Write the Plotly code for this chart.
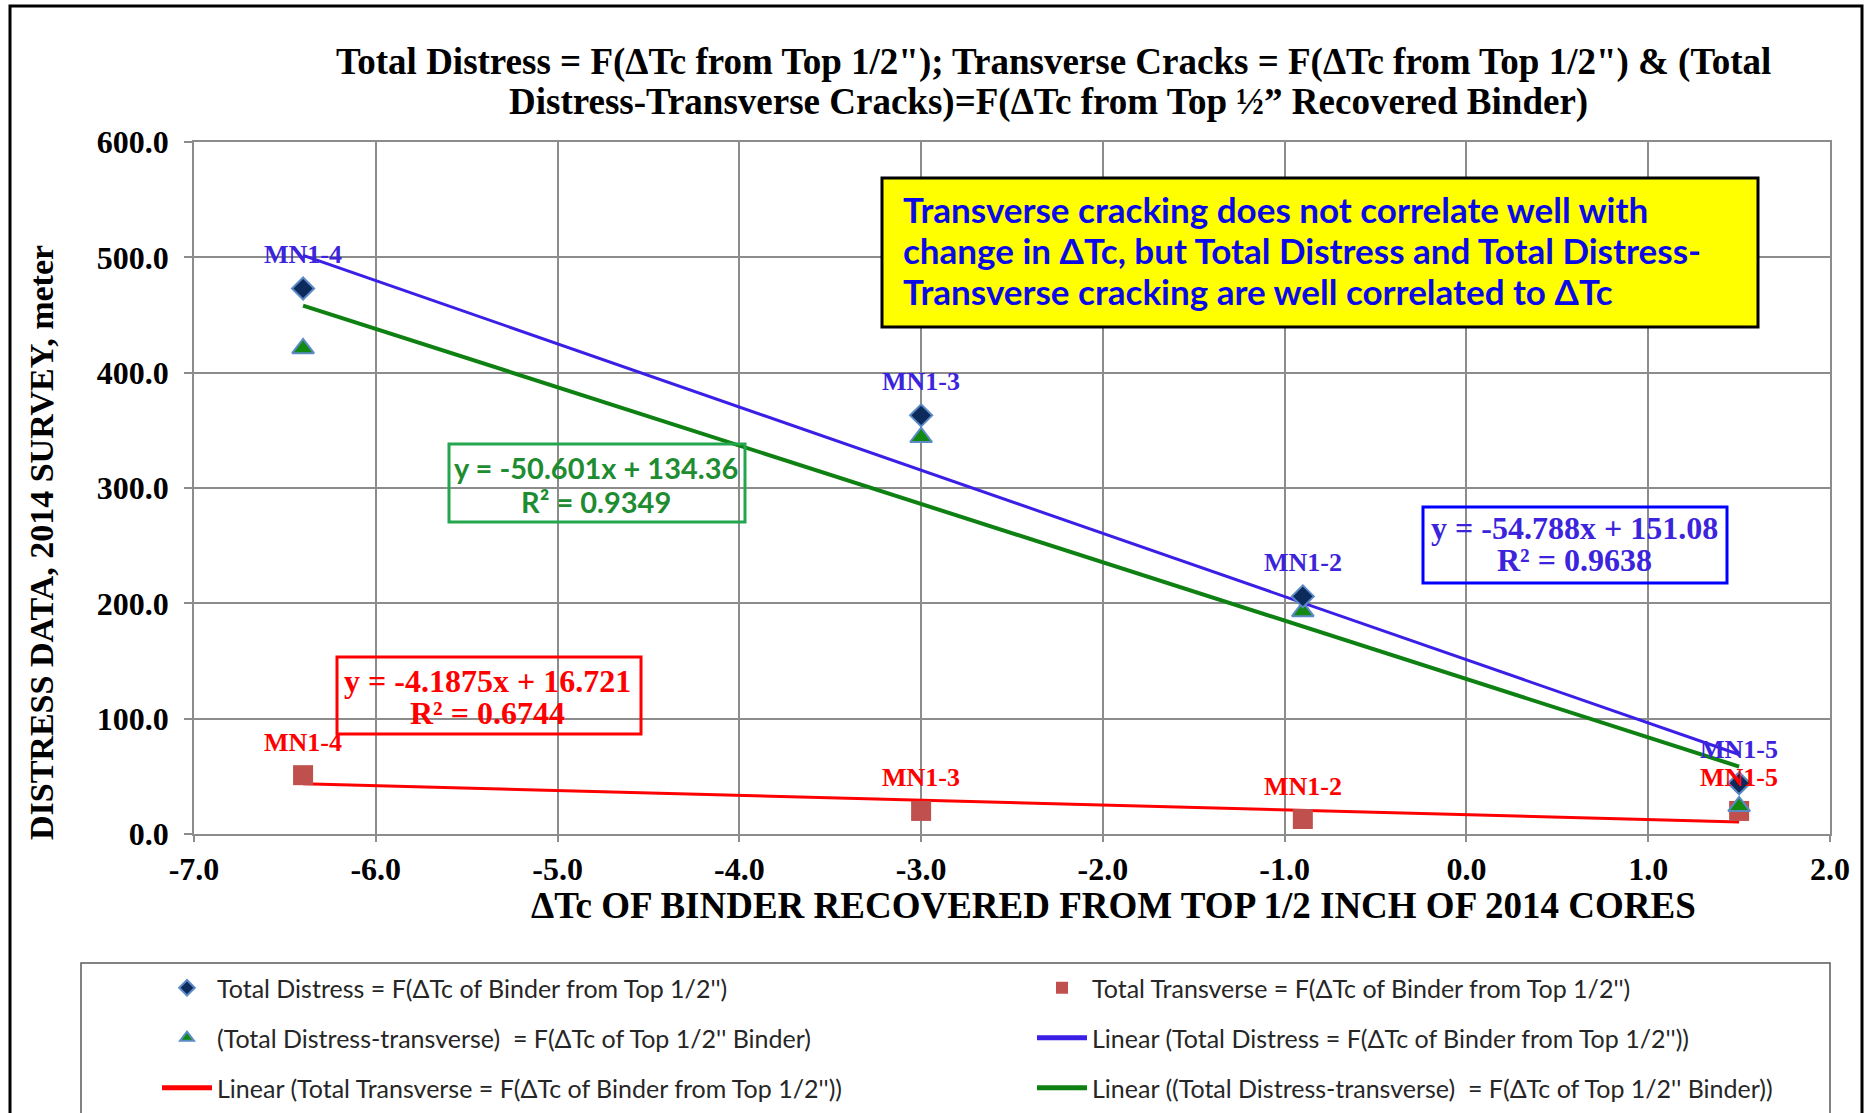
import plotly.graph_objects as go

# ---------------- data ----------------
sites = ["MN1-4", "MN1-3", "MN1-2", "MN1-5"]
delta_tc = [-6.4, -3.0, -0.9, 1.5]
total_distress = [473, 363, 206, 44]
total_transverse = [51, 20, 13, 20]
distress_minus_transverse = [421, 344, 193, 24]

# trendline coefficients
fit_total = [-54.788, 151.08]
fit_trans = [-4.1875, 16.721]
fit_diff = [-50.601, 134.36]
eq_total = ["y = -54.788x + 151.08", "R² = 0.9638"]
eq_trans = ["y = -4.1875x + 16.721", "R² = 0.6744"]
eq_diff = ["y = -50.601x + 134.36", "R² = 0.9349"]

x_ticks = [-7, -6, -5, -4, -3, -2, -1, 0, 1, 2]
y_ticks = [0, 100, 200, 300, 400, 500, 600]
x_ticktext = ["%.1f" % v for v in x_ticks]
y_ticktext = ["%.1f" % v for v in y_ticks]

names = {
    "td": "Total Distress = F(ΔTc of Binder from Top 1/2'')",
    "tt": "Total Transverse = F(ΔTc of Binder from Top 1/2'')",
    "tdt": "(Total Distress-transverse)  = F(ΔTc of Top 1/2'' Binder)",
    "ltd": "Linear (Total Distress = F(ΔTc of Binder from Top 1/2''))",
    "ltt": "Linear (Total Transverse = F(ΔTc of Binder from Top 1/2''))",
    "ltdt": "Linear ((Total Distress-transverse)  = F(ΔTc of Top 1/2'' Binder))",
}

# ---------------- layout geometry ----------------
W, H = 1870, 1113
ML, MR, MT, MB = 194, 40, 142, 279
PW, PH = W - ML - MR, H - MT - MB


def px(xp):
    return (xp - ML) / PW


def py(yp):
    return (H - MB - yp) / PH


SERIF = "Liberation Serif"
SANS = "Lato"
BLUE_TXT = "#3B24DC"
BLUE_LINE = "#3A1FE6"
GREEN_LINE = "#0F8012"
GREEN_TXT = "#1E8C30"
RED = "#FF0000"

fig = go.Figure()

xmin, xmax = min(delta_tc), max(delta_tc)
line_x = [xmin, xmax]

# trendlines
fig.add_trace(go.Scatter(
    x=line_x, y=[fit_total[0] * v + fit_total[1] for v in line_x],
    mode="lines", line=dict(color=BLUE_LINE, width=3),
    name=names["ltd"], legend="legend2", legendrank=2))
fig.add_trace(go.Scatter(
    x=line_x, y=[fit_trans[0] * v + fit_trans[1] for v in line_x],
    mode="lines", line=dict(color=RED, width=3),
    name=names["ltt"], legend="legend3", legendrank=1))
fig.add_trace(go.Scatter(
    x=line_x, y=[fit_diff[0] * v + fit_diff[1] for v in line_x],
    mode="lines", line=dict(color=GREEN_LINE, width=4),
    name=names["ltdt"], legend="legend3", legendrank=2))

# markers
fig.add_trace(go.Scatter(
    x=delta_tc, y=total_transverse, mode="markers",
    marker=dict(symbol="square", size=20, color="#C0504D"),
    name=names["tt"], legend="legend", legendrank=2))
fig.add_trace(go.Scatter(
    x=delta_tc, y=distress_minus_transverse, mode="markers",
    marker=dict(symbol="triangle-up", size=19, color="#128A12",
                line=dict(color="#5B8AC5", width=2)),
    name=names["tdt"], legend="legend2", legendrank=1))
fig.add_trace(go.Scatter(
    x=delta_tc, y=total_distress, mode="markers",
    marker=dict(symbol="diamond", size=17, color="#0D2A5C",
                line=dict(color="#5B8AC5", width=2)),
    name=names["td"], legend="legend", legendrank=1))

annotations = []


def note(xp, yp, text, fam, size, color, xanchor="center", angle=0):
    return dict(x=px(xp), y=py(yp), xref="paper", yref="paper", showarrow=False,
                xanchor=xanchor, yanchor="middle", textangle=angle, text=text,
                font=dict(family=fam, size=size, color=color, weight="bold"))


# point labels
for xv, yv, s in zip(delta_tc, total_distress, sites):
    annotations.append(dict(x=xv, y=yv, xref="x", yref="y", text=s, showarrow=False,
                            xanchor="center", yanchor="middle", yshift=34,
                            font=dict(family=SERIF, size=26, color=BLUE_TXT, weight="bold")))
for xv, yv, s in zip(delta_tc, total_transverse, sites):
    annotations.append(dict(x=xv, y=yv, xref="x", yref="y", text=s, showarrow=False,
                            xanchor="center", yanchor="middle", yshift=33,
                            font=dict(family=SERIF, size=26, color=RED, weight="bold")))

# title
annotations.append(note(1053, 62, "Total Distress = F(ΔTc from Top 1/2\"); Transverse Cracks = F(ΔTc from Top 1/2\") &amp; (Total",
                        SERIF, 37, "#000000"))
annotations.append(note(1048, 102, "Distress-Transverse Cracks)=F(ΔTc from Top ½” Recovered Binder)",
                        SERIF, 37, "#000000"))

# axis titles
annotations.append(note(1113, 905, "ΔTc OF BINDER RECOVERED FROM TOP 1/2 INCH OF 2014 CORES",
                        SERIF, 37, "#000000"))
annotations.append(note(41, 543, "DISTRESS DATA, 2014 SURVEY, meter", SERIF, 34, "#000000", angle=-90))

# yellow note
note_lines = ["Transverse cracking does not correlate well with",
              "change in ΔTc, but Total Distress and Total Distress-",
              "Transverse cracking are well correlated to ΔTc"]
for yl, t in zip([209, 250, 291], note_lines):
    annotations.append(note(901, yl, t, SANS, 35, "#0A0AE6", xanchor="left"))

# equation labels
for (cx, y1, y2), lines, fam, col, sz in [
    ((596, 467, 501), eq_diff, SANS, GREEN_TXT, 29),
    ((1574, 528, 560), eq_total, SERIF, BLUE_TXT, 32),
    ((487, 681, 713), eq_trans, SERIF, RED, 32),
]:
    for yl, t in zip([y1, y2], lines):
        annotations.append(note(cx, yl, t, fam, sz, col))


def rect(x0, y0, x1, y1, color, width, fill="rgba(0,0,0,0)"):
    return dict(type="rect", xref="paper", yref="paper",
                x0=px(x0), x1=px(x1), y0=py(y0), y1=py(y1),
                line=dict(color=color, width=width), fillcolor=fill, layer="above")


shapes = [
    rect(10, 6, 1862, 1130, "#000000", 3),
    rect(81, 963, 1830, 1130, "#595959", 1.5),
    rect(882, 178, 1758, 327, "#000000", 3, "#FFFF00"),
    rect(449, 444, 745, 522, "#22A64E", 3),
    rect(1423, 507, 1727, 583, "#0000FF", 3),
    rect(337, 657, 641, 734, "#FF0000", 3),
]

axis_common = dict(
    showgrid=True, gridcolor="#8C8C8C", gridwidth=1.5,
    showline=True, linecolor="#8C8C8C", linewidth=1.5, mirror=True,
    ticks="outside", tickcolor="#8C8C8C", tickwidth=1.5,
    zeroline=False,
    tickfont=dict(family=SERIF, size=32, color="#000000", weight="bold"),
)

legend_common = dict(
    orientation="h", xanchor="left", yanchor="middle",
    entrywidth=810, entrywidthmode="pixels", itemwidth=50,
    itemsizing="constant",
    font=dict(family=SANS, size=25, color="#262626"),
    bgcolor="rgba(0,0,0,0)", borderwidth=0, traceorder="normal",
)

fig.update_layout(
    width=W, height=H, autosize=False,
    margin=dict(l=ML, r=MR, t=MT, b=MB, autoexpand=False),
    paper_bgcolor="#FFFFFF", plot_bgcolor="#FFFFFF",
    xaxis=dict(range=[-7, 2], tickvals=x_ticks, ticktext=x_ticktext,
               ticklen=6, ticklabelstandoff=0, **axis_common),
    yaxis=dict(range=[0, 600], tickvals=y_ticks, ticktext=y_ticktext,
               ticklen=8, ticklabelstandoff=9, **axis_common),
    legend=dict(x=px(157), y=py(988), **legend_common),
    legend2=dict(x=px(157), y=py(1038), **legend_common),
    legend3=dict(x=px(157), y=py(1088), **legend_common),
    annotations=annotations,
    shapes=shapes,
    showlegend=True,
)

fig.write_html("out.html", config={"displayModeBar": False},
               post_script="document.body.style.margin='0';")
